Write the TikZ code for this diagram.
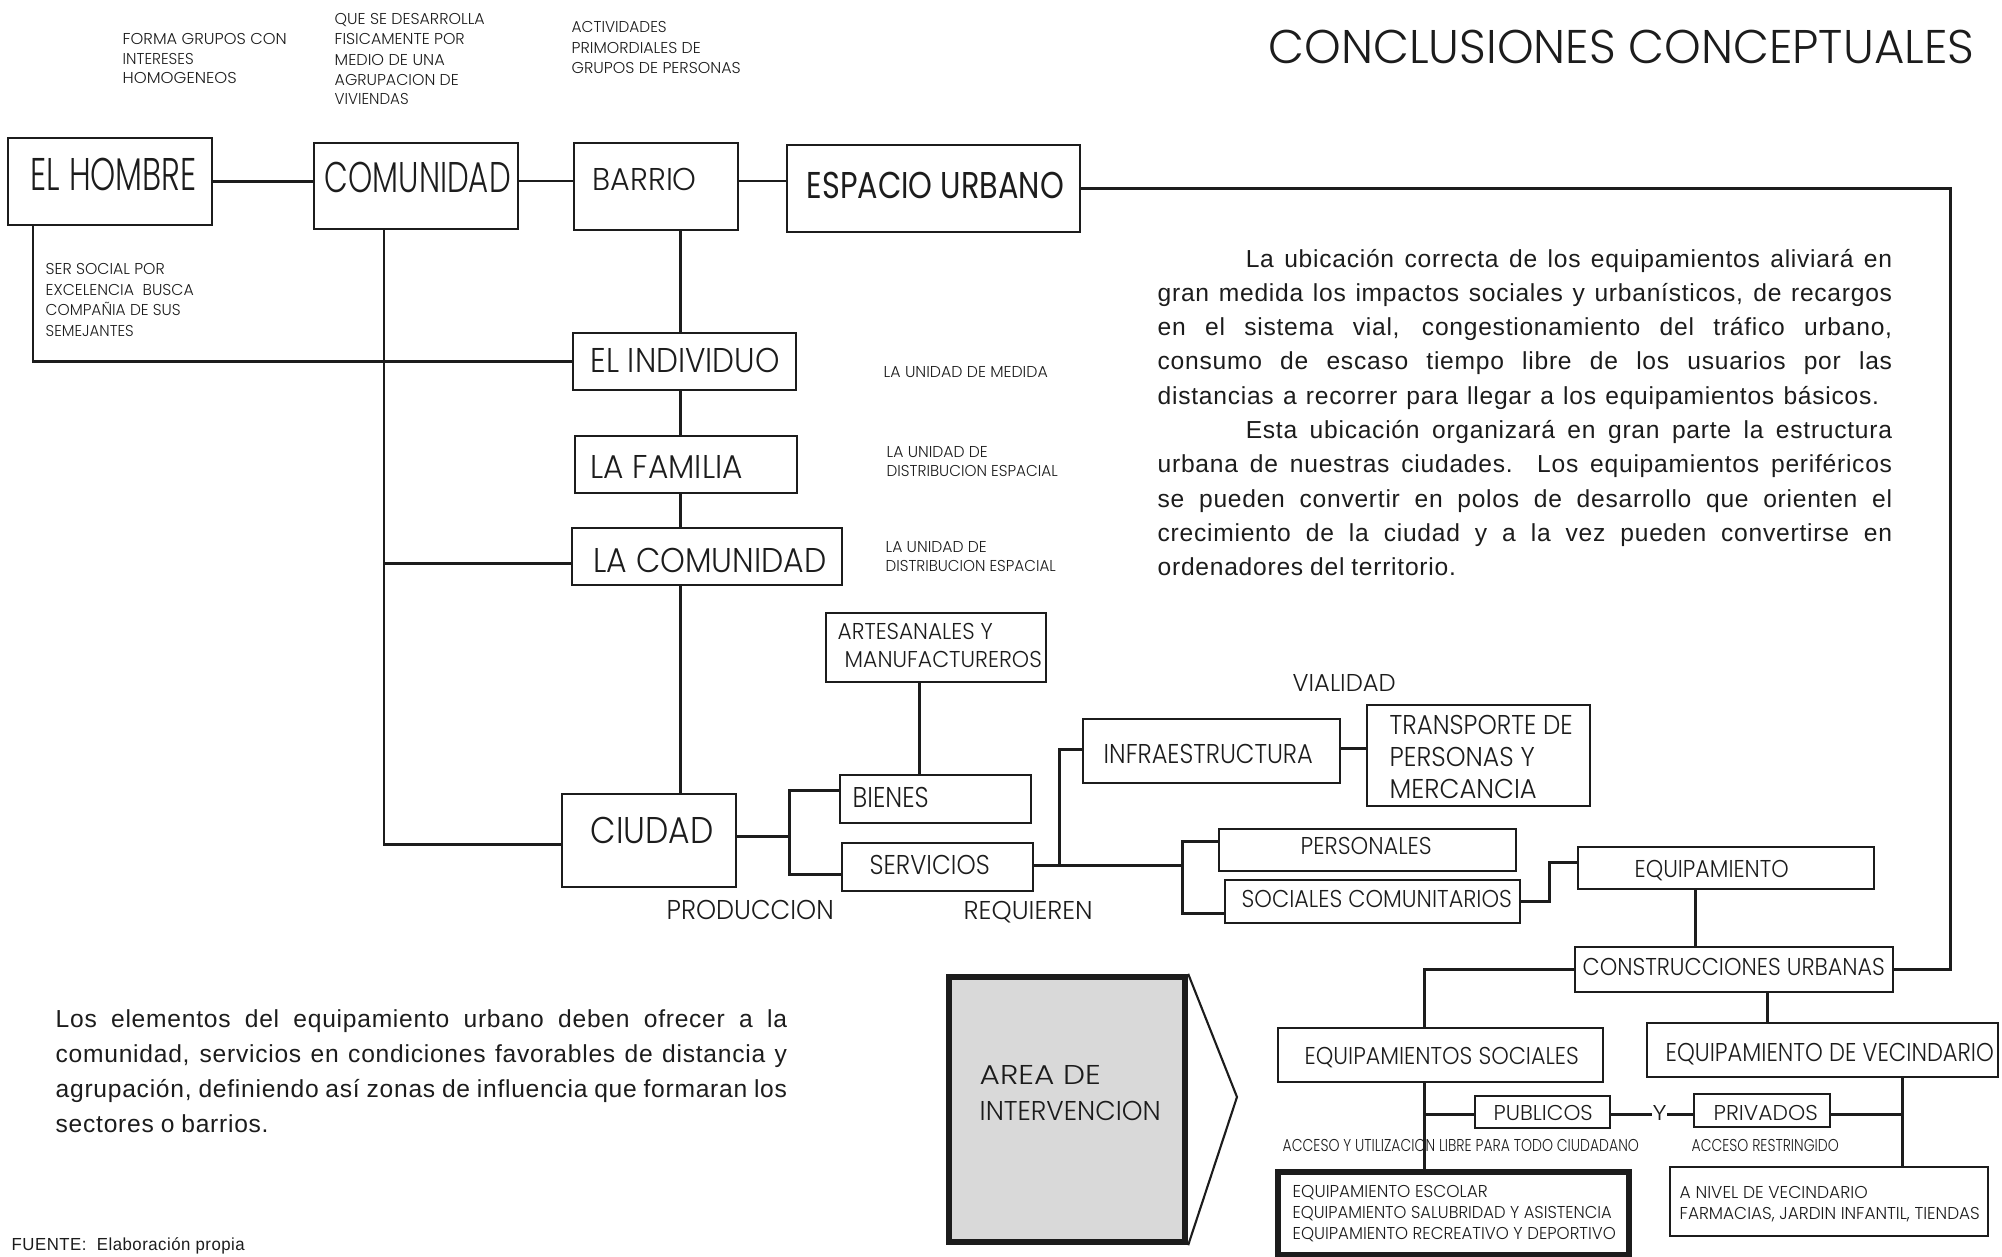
\documentclass[tikz,border=0pt]{standalone}
\usepackage{fontspec}
\usepackage{graphicx}
\setmainfont{Poppins Light}
\newfontfamily\regf{Poppins}
\newfontfamily\pfont{Liberation Sans}[LetterSpace=3]
\usetikzlibrary{fit}

\definecolor{ink}{RGB}{28,28,28}
\definecolor{areagray}{RGB}{217,217,217}

% one drawing unit = 0.01cm
\newlength\pxu
\setlength\pxu{0.284528pt}

% \lbl{ink width}{cap height}{text}: sets text stretched to the given size
\newlength\lblw
\newlength\lblh
\newcommand\lbl[3]{%
  \settowidth\lblw{#3}%
  \settoheight\lblh{H}%
  \pgfmathsetmacro\lblsx{#1*0.284528/\lblw}%
  \pgfmathsetmacro\lblsy{#2*0.284528/\lblh}%
  \scalebox{\lblsx}[\lblsy]{#3}}

\begin{document}
\begin{tikzpicture}[x=0.01cm,y=-0.01cm,
  box/.style={draw=ink, line width=0.8pt, inner sep=0pt},
  heavybox/.style={box, line width=1.6pt},
  txt/.style={inner sep=0pt, anchor=base west, text=ink, font=\fontsize{10}{12}\selectfont},
  ptxt/.style={inner sep=0pt, anchor=base west, text=ink, font=\pfont\fontsize{7}{9.76}\selectfont},
  wire/.style={draw=ink, line width=0.85pt}]
\useasboundingbox (0,0) rectangle (2002,1257);

% ---------- boxes ----------
\node[box, fit={(8,138) (212,225)}] (hombre) {};
\node[box, fit={(314,143) (518,229)}] (comunidad) {};
\node[box, fit={(574,143) (738,230)}] (barrio) {};
\node[box, fit={(787,145) (1080,232)}] (espacio) {};
\node[box, fit={(573,333) (796,390)}] (individuo) {};
\node[box, fit={(575,436) (797,493)}] (familia) {};
\node[box, fit={(572,528) (842,585)}] (lacomunidad) {};
\node[box, fit={(562,794) (736,887)}] (ciudad) {};
\node[box, fit={(826,613) (1046,682)}] (artesanales) {};
\node[box, fit={(840,775) (1031,823)}] (bienes) {};
\node[box, fit={(842,843) (1033,891)}] (servicios) {};
\node[box, fit={(1083,719) (1340,783)}] (infra) {};
\node[box, fit={(1367,705) (1590,806)}] (transporte) {};
\node[box, fit={(1219,829) (1516,871)}] (personales) {};
\node[box, fit={(1225,880) (1520,923)}] (sociales) {};
\node[box, fit={(1578,847) (1874,889)}] (equipamiento) {};
\node[box, fit={(1575,947) (1893,992)}] (construcciones) {};
\node[box, fit={(1278,1028) (1603,1082)}] (eqsociales) {};
\node[box, fit={(1647,1023) (1998,1077)}] (eqvecindario) {};
\node[box, fit={(1475,1096) (1610,1128)}] (publicos) {};
\node[box, fit={(1694,1094) (1830,1127)}] (privados) {};
\node[heavybox, fit={(1278,1172) (1629,1255)}] (escolar) {};
\node[box, fit={(1670,1167) (1988,1236)}] (vecdetalle) {};
\node[heavybox, fill=areagray, line width=1.8pt, fit={(949,977) (1185,1242)}] (area) {};

% ---------- title and notes ----------
\node[txt] (title) at (1268,63) {\lbl{705}{33}{CONCLUSIONES CONCEPTUALES}};

\node[txt] (n1a) at (122,44) {\lbl{164}{11}{FORMA GRUPOS CON}};
\node[txt] (n1b) at (122,64) {\lbl{71}{11}{INTERESES}};
\node[txt] (n1c) at (122,83) {\lbl{114}{11}{HOMOGENEOS}};
\node[txt] (n2a) at (334,24) {\lbl{150}{11}{QUE SE DESARROLLA}};
\node[txt] (n2b) at (334,44) {\lbl{130}{11}{FISICAMENTE POR}};
\node[txt] (n2c) at (334,65) {\lbl{110}{11}{MEDIO DE UNA}};
\node[txt] (n2d) at (334,85) {\lbl{124}{11}{AGRUPACION DE}};
\node[txt] (n2e) at (334,104) {\lbl{74}{11}{VIVIENDAS}};
\node[txt] (n3a) at (571,32) {\lbl{95}{11}{ACTIVIDADES}};
\node[txt] (n3b) at (571,53) {\lbl{129}{11}{PRIMORDIALES DE}};
\node[txt] (n3c) at (571,73) {\lbl{169}{11}{GRUPOS DE PERSONAS}};

\node[txt] (s1) at (45,274) {\lbl{119}{11}{SER SOCIAL POR}};
\node[txt] (s2) at (45,295) {\lbl{148}{11}{EXCELENCIA\ \ BUSCA}};
\node[txt] (s3) at (45,315) {\lbl{135}{11}{COMPAÑIA DE SUS}};
\node[txt] (s4) at (45,336) {\lbl{88}{11}{SEMEJANTES}};

\node[txt] (u1) at (883,377) {\lbl{164}{11}{LA UNIDAD DE MEDIDA}};
\node[txt] (u2a) at (886,457) {\lbl{101}{11}{LA UNIDAD DE}};
\node[txt] (u2b) at (886,476) {\lbl{171}{11}{DISTRIBUCION ESPACIAL}};
\node[txt] (u3a) at (885,552) {\lbl{101}{11}{LA UNIDAD DE}};
\node[txt] (u3b) at (885,571) {\lbl{170}{11}{DISTRIBUCION ESPACIAL}};

% ---------- box labels ----------
\node[txt] (hombreT) at (30,190) {\lbl{166}{32}{EL HOMBRE}};
\node[txt] (comunidadT) at (324,192) {\lbl{186}{30}{COMUNIDAD}};
\node[txt] (barrioT) at (592,190) {\lbl{104}{22}{BARRIO}};
\node[txt, font=\regf\fontsize{10}{12}\selectfont] (espacioT) at (806,198) {\lbl{257}{26}{ESPACIO URBANO}};
\node[txt] (individuoT) at (590,372) {\lbl{189}{24}{EL INDIVIDUO}};
\node[txt] (familiaT) at (590,478) {\lbl{152}{23}{LA FAMILIA}};
\node[txt] (lacomunidadT) at (593,572) {\lbl{233}{24}{LA COMUNIDAD}};
\node[txt] (ciudadT) at (590,843) {\lbl{123}{26}{CIUDAD}};
\node[txt] (artT1) at (837,639) {\lbl{155}{16}{ARTESANALES Y}};
\node[txt] (artT2) at (844,667) {\lbl{197}{16}{MANUFACTUREROS}};
\node[txt] (bienesT) at (852,807) {\lbl{76}{20}{BIENES}};
\node[txt] (serviciosT) at (869,874) {\lbl{120}{19}{SERVICIOS}};
\node[txt] (produccion) at (666,919) {\lbl{167}{19}{PRODUCCION}};
\node[txt] (requieren) at (963,919) {\lbl{129}{18}{REQUIEREN}};
\node[txt] (vialidad) at (1292,691) {\lbl{103}{17}{VIALIDAD}};
\node[txt] (infraT) at (1103,763) {\lbl{209}{19}{INFRAESTRUCTURA}};
\node[txt] (transT1) at (1389,734) {\lbl{183}{19}{TRANSPORTE DE}};
\node[txt] (transT2) at (1389,766) {\lbl{145}{19}{PERSONAS Y}};
\node[txt] (transT3) at (1389,798) {\lbl{147}{19}{MERCANCIA}};
\node[txt] (personalesT) at (1300,854) {\lbl{131}{17}{PERSONALES}};
\node[txt] (socialesT) at (1241,907) {\lbl{270}{17}{SOCIALES COMUNITARIOS}};
\node[txt] (equipT) at (1634,877) {\lbl{154}{17}{EQUIPAMIENTO}};
\node[txt] (construccionesT) at (1582,975) {\lbl{302}{17}{CONSTRUCCIONES URBANAS}};
\node[txt] (eqsocT) at (1304,1064) {\lbl{274}{17}{EQUIPAMIENTOS SOCIALES}};
\node[txt] (eqvecT) at (1665,1061) {\lbl{328}{18}{EQUIPAMIENTO DE VECINDARIO}};
\node[txt] (publicosT) at (1493,1120) {\lbl{99}{15}{PUBLICOS}};
\node[txt] (privadosT) at (1713,1120) {\lbl{104}{15}{PRIVADOS}};
\node[txt] (ynode) at (1652,1120) {\lbl{14}{15}{Y}};
\node[txt] (acceso1) at (1282,1151) {\lbl{356}{12}{ACCESO Y UTILIZACION LIBRE PARA TODO CIUDADANO}};
\node[txt] (acceso2) at (1691,1151) {\lbl{147}{12}{ACCESO RESTRINGIDO}};
\node[txt] (esc1) at (1292,1197) {\lbl{195}{12}{EQUIPAMIENTO ESCOLAR}};
\node[txt] (esc2) at (1292,1218) {\lbl{319}{12}{EQUIPAMIENTO SALUBRIDAD Y ASISTENCIA}};
\node[txt] (esc3) at (1292,1239) {\lbl{323}{12}{EQUIPAMIENTO RECREATIVO Y DEPORTIVO}};
\node[txt] (vec1) at (1679,1198) {\lbl{188}{12}{A NIVEL DE VECINDARIO}};
\node[txt] (vec2) at (1679,1219) {\lbl{300}{12}{FARMACIAS, JARDIN INFANTIL, TIENDAS}};
\node[txt] (areaT1) at (979,1084) {\lbl{121}{19}{AREA DE}};
\node[txt] (areaT2) at (979,1120) {\lbl{181}{19}{INTERVENCION}};

% ---------- paragraphs ----------
\node[ptxt] (para1) at (1157,267) {\parbox[t]{734\pxu}{%
  \parindent=0pt \tolerance=10000 \hbadness=10000 \spaceskip=0.28em plus 3em minus 0.05em
  \hspace*{88\pxu}La ubicación correcta de los equipamientos aliviará en\linebreak
  gran medida los impactos sociales y urbanísticos, de recargos\linebreak
  en el sistema vial, congestionamiento del tráfico urbano,\linebreak
  consumo de escaso tiempo libre de los usuarios por las\linebreak
  distancias a recorrer para llegar a los equipamientos básicos.\hspace*{13\pxu}\linebreak
  \hspace*{88\pxu}Esta ubicación organizará en gran parte la estructura\linebreak
  urbana de nuestras ciudades. Los equipamientos periféricos\linebreak
  se pueden convertir en polos de desarrollo que orienten el\linebreak
  crecimiento de la ciudad y a la vez pueden convertirse en\linebreak
  ordenadores del territorio.}};

\node[ptxt, font=\pfont\fontsize{7}{9.96}\selectfont] (para2) at (55,1027) {\parbox[t]{731\pxu}{%
  \parindent=0pt \tolerance=10000 \hbadness=10000 \spaceskip=0.28em plus 3em minus 0.05em
  Los elementos del equipamiento urbano deben ofrecer a la\linebreak
  comunidad, servicios en condiciones favorables de distancia y\linebreak
  agrupación, definiendo así zonas de influencia que formaran los\linebreak
  sectores o barrios.}};

\node[ptxt] (fuente) at (11,1250) {\lbl{233}{12}{FUENTE:\ \ Elaboración propia}};

% ---------- junction rows and columns ----------
\coordinate (row) at (0,181);
\coordinate (hv) at (33,0);
\coordinate (cv) at (384,0);
\coordinate (spine) at (680,0);
\coordinate (rail) at (1950,0);
\coordinate (lcrow) at (0,563);
\coordinate (cdrow) at (0,844);
\coordinate (cr) at (0,836);
\coordinate (pf) at (789,0);
\coordinate (br) at (0,790);
\coordinate (sr) at (0,874);
\coordinate (ax) at (919,0);
\coordinate (svrow) at (0,865);
\coordinate (sf1) at (1059,0);
\coordinate (sf2) at (1182,0);
\coordinate (irow) at (0,749);
\coordinate (prow) at (0,841);
\coordinate (corow) at (0,913);
\coordinate (trow) at (0,748);
\coordinate (ef) at (1549,0);
\coordinate (erow) at (0,862);
\coordinate (ex) at (1695,0);
\coordinate (sx) at (1424,0);
\coordinate (vx) at (1767,0);
\coordinate (nx) at (1902,0);
\coordinate (pubrow) at (0,1114);
\coordinate (chevtip) at (1237,1097);

% ---------- connectors ----------
\draw[wire] (hombre.east) -- (hombre.east -| comunidad.west);
\draw[wire] (comunidad.east |- row) -- (barrio.west |- row);
\draw[wire] (barrio.east |- row) -- (espacio.west |- row);
\draw[wire] (espacio.east) -- (espacio.east -| rail) -- (rail |- construcciones.east) -- (construcciones.east);

\draw[wire] (hombre.south -| hv) -- (hv |- individuo.west) -- (individuo.west);
\draw[wire] (comunidad.south -| cv) -- (cv |- cdrow) -- (ciudad.west |- cdrow);
\draw[wire] (cv |- lcrow) -- (lacomunidad.west |- lcrow);

\draw[wire] (barrio.south -| spine) -- (individuo.north -| spine);
\draw[wire] (individuo.south -| spine) -- (familia.north -| spine);
\draw[wire] (familia.south -| spine) -- (lacomunidad.north -| spine);
\draw[wire] (lacomunidad.south -| spine) -- (ciudad.north -| spine);

\draw[wire] (ciudad.east |- cr) -- (pf |- cr);
\draw[wire] (bienes.west |- br) -- (pf |- br) -- (pf |- sr) -- (servicios.west |- sr);
\draw[wire] (artesanales.south -| ax) -- (bienes.north -| ax);

\draw[wire] (servicios.east |- svrow) -- (sf2 |- svrow);
\draw[wire] (sf1 |- svrow) -- (sf1 |- irow) -- (infra.west |- irow);
\draw[wire] (personales.west |- prow) -- (sf2 |- prow) -- (sf2 |- corow) -- (sociales.west |- corow);
\draw[wire] (infra.east |- trow) -- (transporte.west |- trow);
\draw[wire] (sociales.east) -- (sociales.east -| ef) -- (ef |- erow) -- (equipamiento.west |- erow);
\draw[wire] (equipamiento.south -| ex) -- (construcciones.north -| ex);

\draw[wire] (construcciones.west) -- (construcciones.west -| sx) -- (eqsociales.north -| sx);
\draw[wire] (construcciones.south -| vx) -- (eqvecindario.north -| vx);
\draw[wire] (eqsociales.south -| sx) -- (escolar.north -| sx);
\draw[wire] (sx |- pubrow) -- (publicos.west |- pubrow);
\draw[wire] (publicos.east |- pubrow) -- (ynode.west |- pubrow);
\draw[wire] (ynode.east |- pubrow) -- (privados.west |- pubrow);
\draw[wire] (privados.east |- pubrow) -- (nx |- pubrow);
\draw[wire] (eqvecindario.south -| nx) -- (vecdetalle.north -| nx);

% pointer beside the intervention area
\draw[draw=ink, line width=0.6pt] (area.north east) -- (chevtip) -- (area.south east);

\end{tikzpicture}
\end{document}
